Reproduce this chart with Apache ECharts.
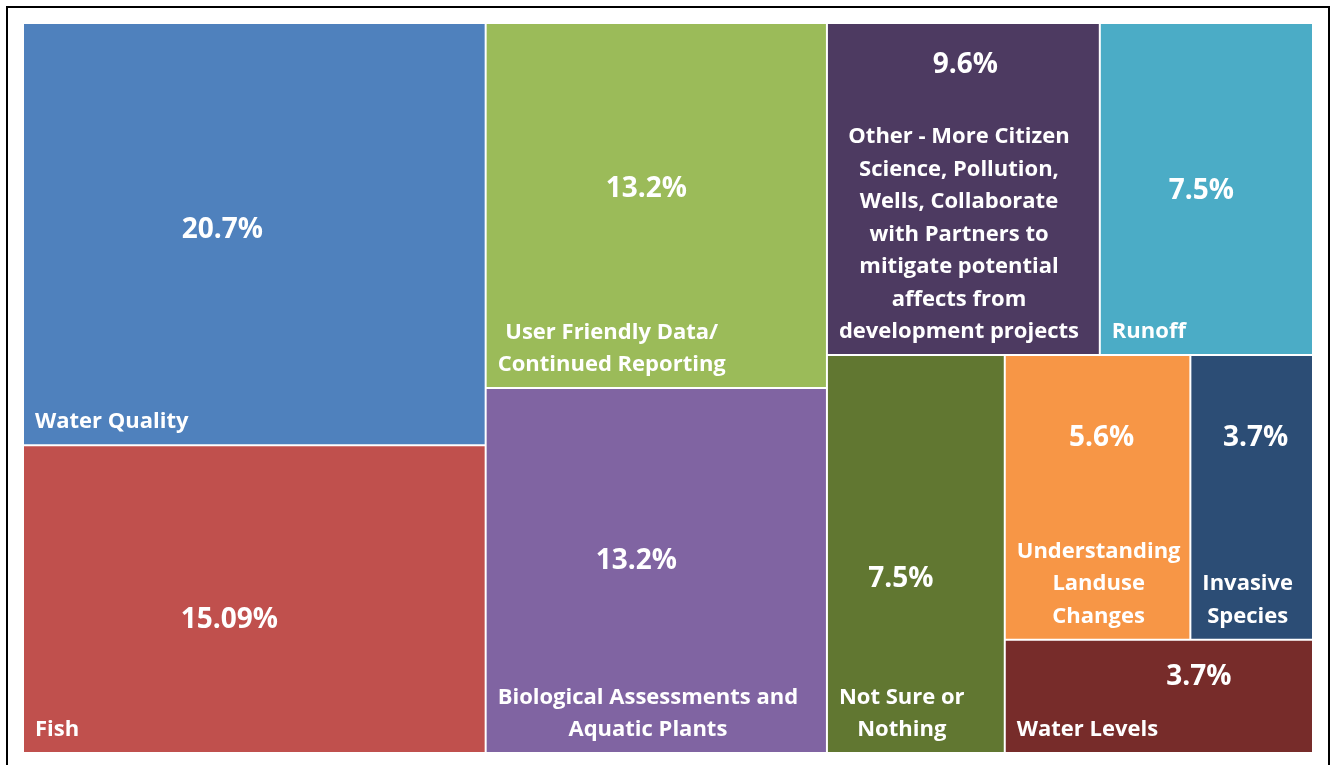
<!DOCTYPE html>
<html><head><meta charset="utf-8">
<script src="https://cdn.jsdelivr.net/npm/echarts@6/dist/echarts.min.js"></script>
<style>html,body{margin:0;padding:0;background:#fff}#c{width:1336px;height:765px}</style>
</head><body><div id="c"></div>
<script>
// ---- data ----
const categories = [
  'Water Quality',
  'Fish',
  'User Friendly Data/\nContinued Reporting',
  'Biological Assessments and\nAquatic Plants',
  'Other - More Citizen\nScience, Pollution,\nWells, Collaborate\nwith Partners to\nmitigate potential\naffects from\ndevelopment projects',
  'Runoff',
  'Not Sure or\nNothing',
  'Understanding\nLanduse\nChanges',
  'Invasive\nSpecies',
  'Water Levels'
];
const values = [20.7, 15.09, 13.2, 13.2, 9.6, 7.5, 7.5, 5.6, 3.7, 3.7];
const colors = ['#4F81BD', '#C0504D', '#9BBB59', '#8064A2', '#4D3A61', '#4BACC6', '#617731', '#F79646', '#2C4D75', '#772C2A'];
// grouping of the tiles (indices into the arrays above), mirrors the reference's tiling
const grouping = [[0, 1], [[2, 3], [[4, 5], [6, [[7, 8], 9]]]]];
// label placement tweaks for the percentage labels (style, not data)
const valueLabelShift = [[-32, -4], [-25, 21], [-10, -16], [-20, -9], [2, 0], [-5, 2], [-15, 25], [4, -59], [4, -59], [40, -19]];

const FONT = 'Open Sans';
const NAME_SIZE = 22;
const ctx = document.createElement('canvas').getContext('2d');
ctx.font = 'bold ' + NAME_SIZE + 'px "' + FONT + '"';
function blockWidth(s) { return Math.max.apply(null, s.split('\n').map(l => ctx.measureText(l).width)); }

function build(node, mode) {
  if (Array.isArray(node)) {
    return {
      name: '',
      children: node.map(n => build(n, mode)),
      itemStyle: { borderWidth: 0, gapWidth: 0, borderColor: 'rgba(0,0,0,0)' }
    };
  }
  const i = node;
  const item = { name: categories[i], value: values[i] };
  if (mode === 'fill') {
    item.itemStyle = { color: colors[i], borderColor: 'rgba(255,255,255,0.85)', borderWidth: 1 };
    item.label = { offset: valueLabelShift[i] };
    if (i === 4) { item.label.position = 'insideTop'; item.label.distance = 24; }
  } else {
    item.itemStyle = { color: 'rgba(0,0,0,0)', borderColor: 'rgba(0,0,0,0)', borderWidth: 1 };
    item.label = { offset: [blockWidth(categories[i]) / 2 + 5, 0] };
  }
  return item;
}

const common = {
  type: 'treemap',
  left: 23, top: 23, width: 1290, height: 730,
  roam: false, nodeClick: false, silent: true,
  breadcrumb: { show: false },
  sort: false,
  squareRatio: 0.001,
  animation: false,
  itemStyle: { borderWidth: 0, gapWidth: 0 }
};

const chart = echarts.init(document.getElementById('c'), null, { renderer: 'canvas' });
chart.setOption({
  backgroundColor: '#fff',
  animation: false,
  graphic: [{
    type: 'rect', silent: true, z: 100,
    shape: { x: 7, y: 7, width: 1322, height: 800 },
    style: { fill: null, stroke: '#000', lineWidth: 2 }
  }],
  series: [
    Object.assign({}, common, {
      data: build(grouping, 'fill').children,
      label: {
        show: true, position: 'inside', padding: 0, overflow: 'none',
        formatter: p => p.value + '%',
        color: '#fff', fontFamily: FONT, fontWeight: 'bold', fontSize: 28, lineHeight: 34
      }
    }),
    Object.assign({}, common, {
      data: build(grouping, 'name').children,
      label: {
        show: true, position: 'insideBottomLeft', distance: 6, padding: 0, overflow: 'none',
        align: 'center',
        formatter: p => p.name,
        color: '#fff', fontFamily: FONT, fontWeight: 'bold', fontSize: NAME_SIZE, lineHeight: 32.5
      }
    })
  ]
});
</script>
</body></html>
